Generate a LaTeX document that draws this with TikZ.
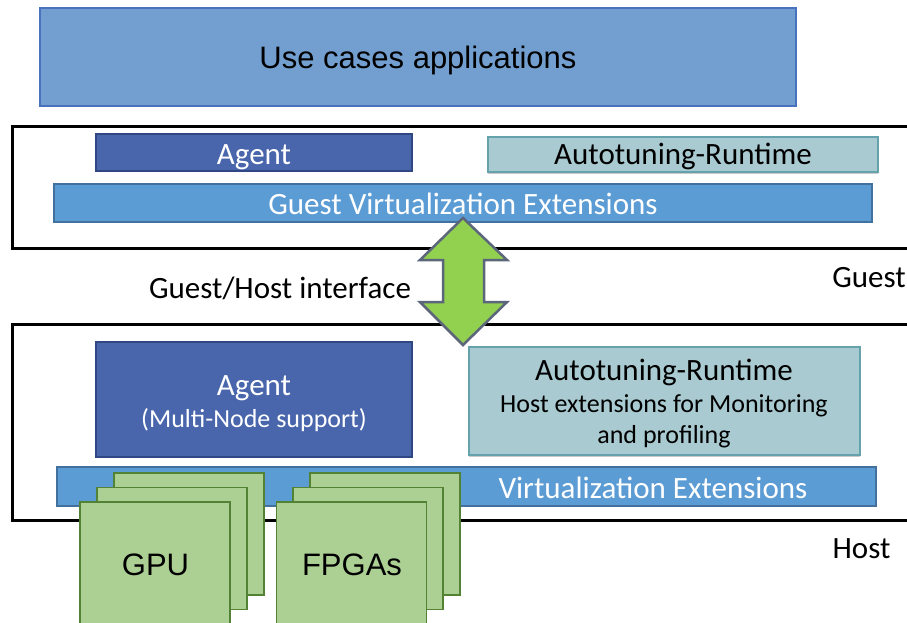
\documentclass[tikz,border=0pt]{standalone}
\usepackage{fontspec}
\setmainfont{Carlito}
\newfontfamily\arialfont{Liberation Sans}
\usetikzlibrary{shadows}
\definecolor{appfill}{RGB}{114,159,207}
\definecolor{appline}{RGB}{72,114,190}
\definecolor{agentfill}{RGB}{73,102,172}
\definecolor{agentline}{RGB}{47,72,132}
\definecolor{rtfill}{RGB}{168,202,208}
\definecolor{rtline}{RGB}{100,162,172}
\definecolor{virtfill}{RGB}{92,156,212}
\definecolor{virtline}{RGB}{65,113,156}
\definecolor{devfill}{RGB}{172,208,148}
\definecolor{devline}{RGB}{84,130,53}
\definecolor{arrowfill}{RGB}{146,208,80}
\definecolor{arrowline}{RGB}{92,102,122}
\tikzset{
  layer/.style={draw=black, line width=3pt},
  appbox/.style={draw=appline, fill=appfill, line width=1.2pt, inner sep=0pt},
  agentbox/.style={draw=agentline, fill=agentfill, line width=2pt, inner sep=0pt},
  rtbox/.style={draw=rtline, fill=rtfill, line width=1.5pt, inner sep=0pt,
    drop shadow={shadow xshift=0pt, shadow yshift=-2pt, fill=black!35, opacity=0.6}},
  virtbox/.style={draw=virtline, fill=virtfill, line width=2pt, inner sep=0pt},
  devbox/.style={draw=devline, fill=devfill, line width=1.3pt, inner sep=0pt,
    minimum width=150pt, minimum height=122pt},
  % text placed by its baseline
  txt/.style={anchor=base, inner sep=0pt, font=\fontsize{31}{34}\selectfont},
  smalltxt/.style={anchor=base, inner sep=0pt, font=\fontsize{26}{30}\selectfont},
  arialtxt/.style={anchor=base, inner sep=0pt, font=\arialfont\fontsize{31}{34}\selectfont},
  light/.style={text=white},
}
\begin{document}
\begin{tikzpicture}[x=1pt, y=-1pt]
\useasboundingbox (0,0) rectangle (907,622);
\clip (0,0) rectangle (907,622);
\fill[white] (0,0) rectangle (907,622);

% applications on top
\node[appbox, minimum width=756pt, minimum height=98pt] (apps) at (418,57) {};
\node[arialtxt] (appstext) at (418,68) {Use cases applications};

% guest layer
\draw[layer] (12,126) rectangle (915,248);
\node[agentbox, minimum width=316pt, minimum height=37pt] (gagent) at (254,152.5) {};
\node[txt, light] (gagenttext) at (254,164) {Agent};
\node[rtbox, minimum width=390pt, minimum height=35pt] (grt) at (683,154.5) {};
\node[txt] (grttext) at (683,164) {Autotuning-Runtime};
\node[virtbox, minimum width=818pt, minimum height=38pt] (gvirt) at (463,203) {};
\node[txt, light] (gvirttext) at (463,214) {Guest Virtualization Extensions};

% host layer
\draw[layer] (12,324) rectangle (915,520);
\node[agentbox, minimum width=316pt, minimum height=115pt] (hagent) at (254,399.5) {};
\node[txt, light] (hagenttext) at (254,395) {Agent};
\node[smalltxt, light] (hagentsub) at (254,427) {(Multi-Node support)};
\node[rtbox, minimum width=391pt, minimum height=108pt] (hrt) at (664.5,401) {};
\node[txt] (hrttext) at (664,380) {Autotuning-Runtime};
\node[smalltxt] (hrtsub1) at (664,412) {Host extensions for Monitoring};
\node[smalltxt] (hrtsub2) at (664,443) {and profiling};
\node[virtbox, minimum width=819pt, minimum height=39pt] (hvirt) at (466.5,486.5) {};
\node[txt, light] (hvirttext) at (653,498) {Virtualization Extensions};

% accelerator stacks
\node[devbox] (gpu3) at (189,534) {};
\node[devbox] (gpu2) at (172,548.5) {};
\node[devbox] (gpu1) at (155,563) {};
\node[arialtxt] (gputext) at (155.5,575) {GPU};
\node[devbox] (fpga3) at (385,534) {};
\node[devbox] (fpga2) at (368,548.5) {};
\node[devbox] (fpga1) at (351.5,563) {};
\node[arialtxt] (fpgatext) at (352,575) {FPGAs};

% guest/host interface arrow
\coordinate (itop) at (463,218);
\coordinate (ibot) at (463,345);
\draw[fill=arrowfill, draw=arrowline, line width=2.5pt, line join=miter]
  (itop) -- (507,260) -- (484,260) -- (484,302) -- (507,302) -- (ibot)
  -- (420,302) -- (443,302) -- (443,260) -- (420,260) -- cycle;

% side labels
\node[txt] (iface) at (280,298) {Guest/Host interface};
\node[txt] (guest) at (869,287) {Guest};
\node[txt] (host) at (861.5,558) {Host};
\end{tikzpicture}
\end{document}
